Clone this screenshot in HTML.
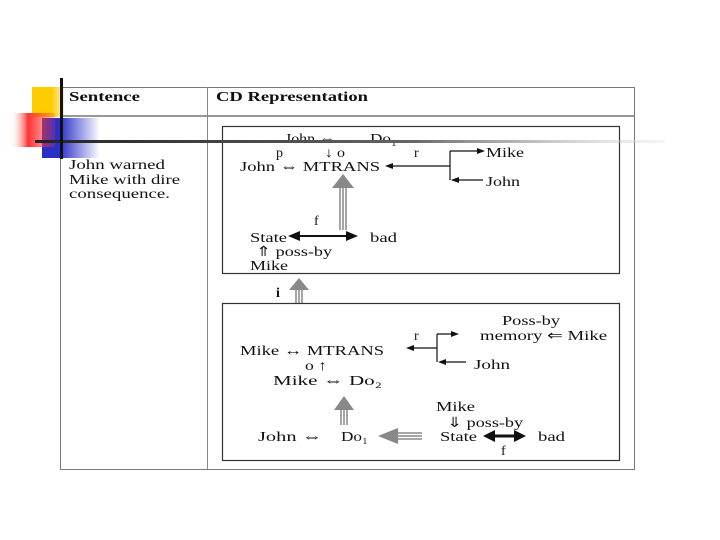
<!DOCTYPE html>
<html><head><meta charset="utf-8"><style>body{margin:0;background:#fff}svg{display:block}text{font-family:"Liberation Serif",serif;font-size:14px;fill:#111}</style></head>
<body>
<svg width="720" height="540" viewBox="0 0 720 540">
<defs>
<linearGradient id="rg" x1="0" x2="1"><stop offset="0" stop-color="#fff" stop-opacity="0"/><stop offset="0.4" stop-color="#f33"/><stop offset="1" stop-color="#f33" stop-opacity="0.2"/></linearGradient>
<linearGradient id="bg" x1="0" x2="1"><stop offset="0.3" stop-color="#2a2fc8"/><stop offset="1" stop-color="#2a2fc8" stop-opacity="0"/></linearGradient>
<linearGradient id="yg" x1="0" x2="1"><stop offset="0.6" stop-color="#ffcc00"/><stop offset="1" stop-color="#ffcc00" stop-opacity="0.3"/></linearGradient>
<linearGradient id="lg" x1="0" x2="1"><stop offset="0" stop-color="#222"/><stop offset="0.6" stop-color="#666"/><stop offset="1" stop-color="#ddd" stop-opacity="0.3"/></linearGradient>
</defs>
<rect x="32" y="87" width="32" height="30" fill="url(#yg)"/>
<rect x="42" y="118" width="58" height="40" fill="url(#bg)"/>
<rect x="10" y="113" width="45" height="34" fill="url(#rg)"/>
<rect x="60.5" y="87.5" width="574" height="382" fill="none" stroke="#777"/>
<line x1="60" y1="116" x2="634" y2="116" stroke="#777" stroke-width="1.5"/>
<line x1="207.5" y1="87" x2="207.5" y2="469" stroke="#888"/>
<text x="69" y="101" font-weight="bold" font-size="13" textLength="71" lengthAdjust="spacingAndGlyphs">Sentence</text>
<text x="216" y="101" font-weight="bold" font-size="13" textLength="152" lengthAdjust="spacingAndGlyphs">CD Representation</text>
<text x="69" y="169" textLength="96" lengthAdjust="spacingAndGlyphs">John warned</text>
<text x="69" y="184" textLength="111" lengthAdjust="spacingAndGlyphs">Mike with dire</text>
<text x="69" y="198" textLength="101" lengthAdjust="spacingAndGlyphs">consequence.</text>
<rect x="222.5" y="126.5" width="397" height="147" fill="none" stroke="#333" stroke-width="1.2"/>
<text x="285" y="143" textLength="50" lengthAdjust="spacingAndGlyphs">John ⇔</text><text x="370" y="143" textLength="27" lengthAdjust="spacingAndGlyphs">Do₁</text>
<text x="276" y="157">p</text><text x="325" y="157" textLength="20" lengthAdjust="spacingAndGlyphs">↓ o</text>
<text x="240" y="171" textLength="140" lengthAdjust="spacingAndGlyphs">John ⇔ MTRANS</text>
<text x="414" y="157">r</text>
<path d="M390 166H450M450 151V180" stroke="#111" fill="none" stroke-width="1.2"/>
<path d="M385 166l8-3v6z M485 151l-8-3v6z M451 180l8-3v6z" fill="#111"/>
<path d="M450 151H480M452 180H483" stroke="#111" stroke-width="1.2"/>
<text x="486" y="157" textLength="38" lengthAdjust="spacingAndGlyphs">Mike</text><text x="486" y="186" textLength="34" lengthAdjust="spacingAndGlyphs">John</text>
<path d="M340 230V188M343 230V188M346 230V188" stroke="#888" stroke-width="1.5"/>
<path d="M332 188l11-14 11 14z" fill="#888"/>
<text x="314" y="225">f</text>
<text x="250" y="242" textLength="37" lengthAdjust="spacingAndGlyphs">State</text>
<path d="M290 236H355" stroke="#111" stroke-width="2"/>
<path d="M288 236l12-5v10z M358 236l-12-5v10z" fill="#111"/>
<text x="370" y="242" textLength="27" lengthAdjust="spacingAndGlyphs">bad</text>
<text x="256" y="256" textLength="76" lengthAdjust="spacingAndGlyphs">⇑ poss-by</text>
<text x="250" y="270" textLength="38" lengthAdjust="spacingAndGlyphs">Mike</text>
<rect x="35" y="140" width="630" height="3" fill="url(#lg)"/>
<rect x="60" y="78" width="3" height="81" fill="#111"/>
<path d="M296 303V290M299 303V290M302 303V290" stroke="#888" stroke-width="1.5"/>
<path d="M289 290l10-12 10 12z" fill="#888"/>
<text x="276" y="297" font-weight="bold" font-size="12">i</text>
<rect x="222.5" y="303.5" width="397" height="157" fill="none" stroke="#333" stroke-width="1.2"/>
<text x="502" y="325" textLength="58" lengthAdjust="spacingAndGlyphs">Poss-by</text>
<text x="480" y="340" textLength="127" lengthAdjust="spacingAndGlyphs">memory ⇐ Mike</text>
<text x="414" y="340">r</text>
<path d="M412 348H437M437 334V362M437 334H455M441 362H466" stroke="#111" stroke-width="1.2" fill="none"/>
<path d="M406 348l8-3v6z M459 334l-8-3v6z M438 362l8-3v6z" fill="#111"/>
<text x="474" y="369" textLength="36" lengthAdjust="spacingAndGlyphs">John</text>
<text x="240" y="355" textLength="144" lengthAdjust="spacingAndGlyphs">Mike ↔ MTRANS</text>
<text x="305" y="370" textLength="22" lengthAdjust="spacingAndGlyphs">o ↑</text>
<text x="273" y="385" textLength="109" lengthAdjust="spacingAndGlyphs">Mike  ⇔   Do₂</text>
<path d="M341 425V410M344 425V410M347 425V410" stroke="#888" stroke-width="1.5"/>
<path d="M334 410l10-14 10 14z" fill="#888"/>
<text x="258" y="441" textLength="64" lengthAdjust="spacingAndGlyphs">John  ⇔</text><text x="341" y="441" textLength="27" lengthAdjust="spacingAndGlyphs">Do₁</text>
<path d="M398 433H422M398 436H422M398 439H422" stroke="#888" stroke-width="1.5"/>
<path d="M398 428l-20 8 20 8z" fill="#888"/>
<text x="436" y="411" textLength="39" lengthAdjust="spacingAndGlyphs">Mike</text>
<text x="447" y="427" textLength="76" lengthAdjust="spacingAndGlyphs">⇓ poss-by</text>
<text x="440" y="441" textLength="37" lengthAdjust="spacingAndGlyphs">State</text>
<path d="M488 436H518" stroke="#111" stroke-width="3"/>
<path d="M483 436l12-6v12z M526 436l-12-6v12z" fill="#111"/>
<text x="538" y="441" textLength="27" lengthAdjust="spacingAndGlyphs">bad</text>
<text x="501" y="455">f</text>
</svg>
</body></html>
